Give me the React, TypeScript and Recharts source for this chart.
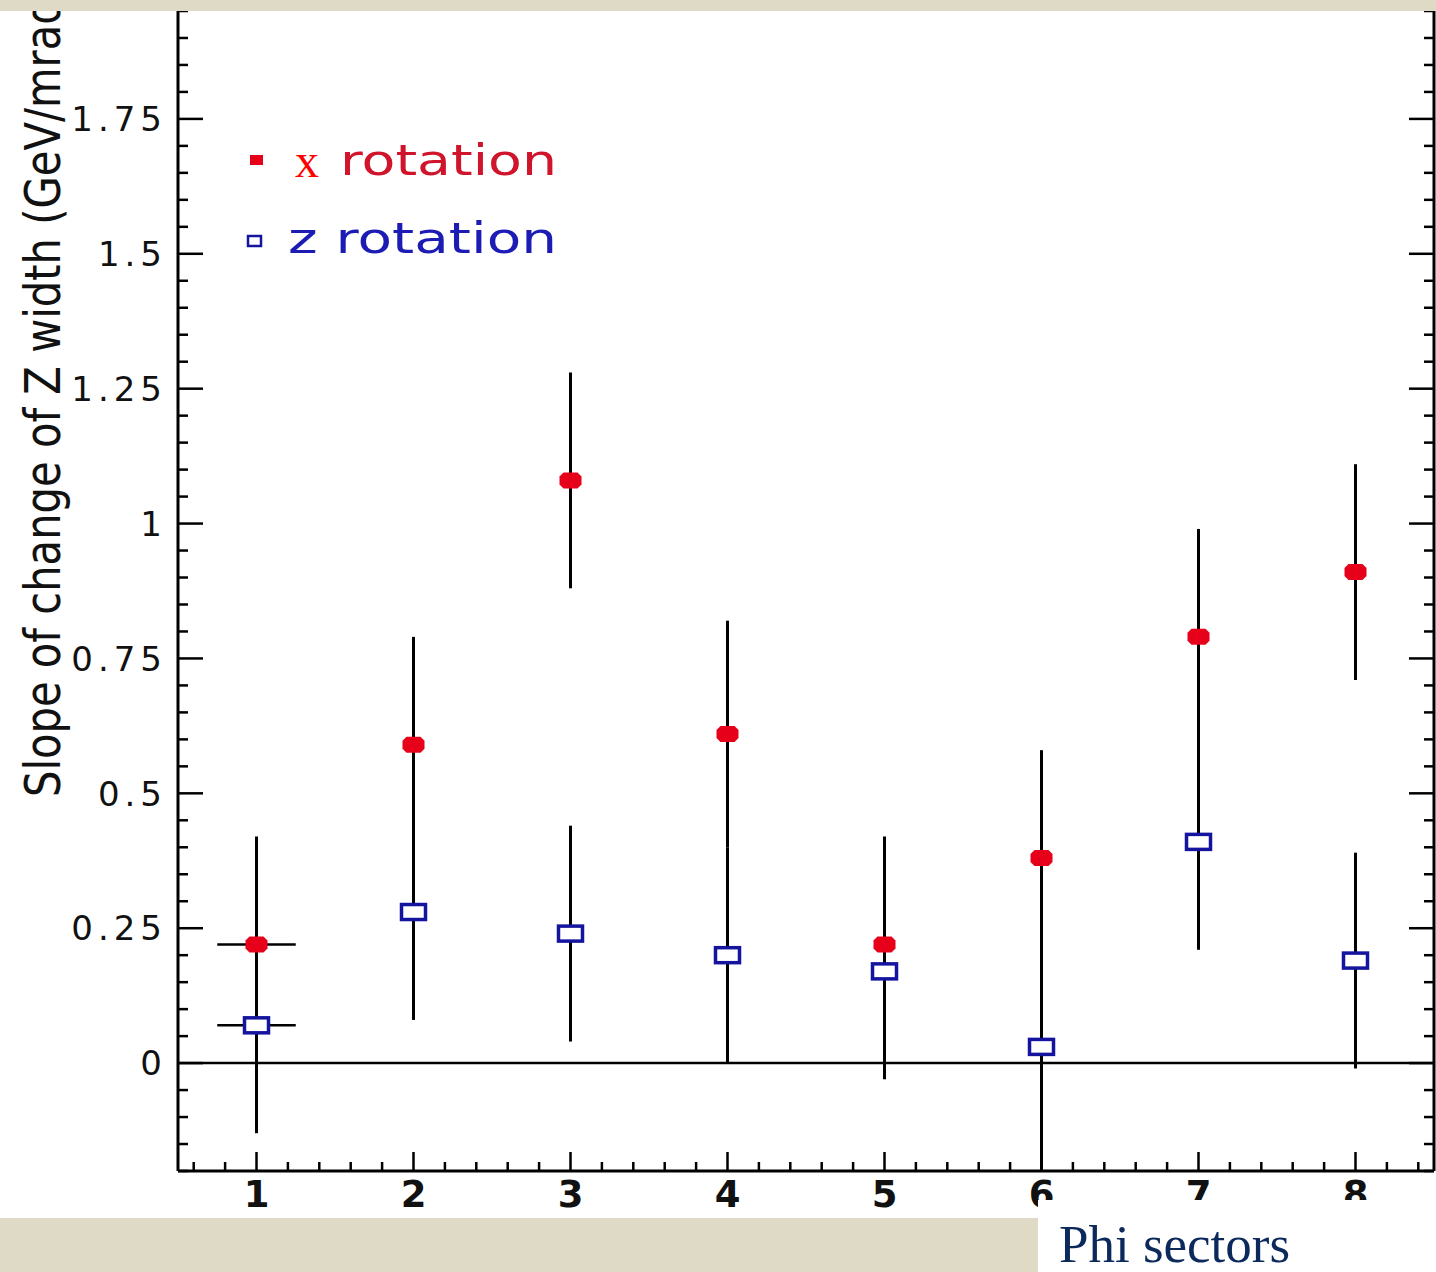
import {
  ScatterChart,
  Scatter,
  XAxis,
  YAxis,
  ErrorBar,
  ReferenceLine,
  Legend,
} from "recharts";

// phi sector number of each point
const sectors = [1, 2, 3, 4, 5, 6, 7, 8];
// x rotation (red, filled)
const xRotation = [0.22, 0.59, 1.08, 0.61, 0.22, 0.38, 0.79, 0.91];
const xRotationErr = [0.2, 0.2, 0.2, 0.21, 0.2, 0.2, 0.2, 0.2];
// z rotation (blue, open squares)
const zRotation = [0.07, 0.28, 0.24, 0.2, 0.17, 0.03, 0.41, 0.19];
const zRotationErr = [0.2, 0.2, 0.2, 0.2, 0.2, 0.23, 0.2, 0.2];
// horizontal error, only drawn on sector 1
const sectorErr = [0.25, 0, 0, 0, 0, 0, 0, 0];

const yMajorTicks = [0, 0.25, 0.5, 0.75, 1, 1.25, 1.5, 1.75];
const yTickLabels = ["0", "0.25", "0.5", "0.75", "1", "1.25", "1.5", "1.75"];
const xTickLabels = ["1", "2", "3", "4", "5", "6", "7", "8"];

const seriesNames = ["x rotation", "z rotation"];
const yTitle = "Slope of change of Z width (GeV/mrad)";
const xTitle = "Phi sectors";

// minor ticks: 0.05 on y, 0.2 on x
const yTicks: number[] = [];
for (let i = -4; i <= 39; i++) yTicks.push(Math.round(i * 5) / 100);
const xTicks: number[] = [];
for (let i = 3; i <= 42; i++) xTicks.push(Math.round(i * 2) / 10);

const xData = sectors.map((s, i) => ({
  sector: s,
  value: xRotation[i],
  err: xRotationErr[i],
  xerr: sectorErr[i] || undefined,
}));
const zData = sectors.map((s, i) => ({
  sector: s,
  value: zRotation[i],
  err: zRotationErr[i],
  xerr: sectorErr[i] || undefined,
}));

const PLOT_LEFT = 178;
const PLOT_RIGHT = 1434;
const PLOT_BOTTOM = 1171;
const RED = "#e6001a";
const BLUE = "#14149e";
const SANS = "'DejaVu Sans', Verdana, sans-serif";

const near = (a: number, b: number) => Math.abs(a - b) < 1e-6;

function YTick(props: any) {
  const { y, payload } = props;
  const v = payload.value;
  const idx = yMajorTicks.findIndex((t) => near(t, v));
  const len = idx >= 0 ? 25 : 10;
  return (
    <g>
      <line x1={PLOT_LEFT} x2={PLOT_LEFT + len} y1={y} y2={y} stroke="#000" strokeWidth={2.5} />
      <line x1={PLOT_RIGHT} x2={PLOT_RIGHT - len} y1={y} y2={y} stroke="#000" strokeWidth={2.5} />
      {idx >= 0 && (
        <text
          x={167}
          y={y}
          dy="0.36em"
          textAnchor="end"
          fontFamily={SANS}
          fontSize={34}
          letterSpacing={5}
          fill="#111"
        >
          {yTickLabels[idx]}
        </text>
      )}
    </g>
  );
}

function XTick(props: any) {
  const { x, payload } = props;
  const v = payload.value;
  const idx = sectors.findIndex((s) => near(s, v));
  const len = idx >= 0 ? 19 : 9;
  return (
    <g>
      <line x1={x} x2={x} y1={PLOT_BOTTOM} y2={PLOT_BOTTOM - len} stroke="#000" strokeWidth={2.5} />
      {idx >= 0 && (
        <text
          x={x}
          y={1207}
          textAnchor="middle"
          fontFamily={SANS}
          fontWeight="bold"
          fontSize={37}
          fill="#111"
        >
          {xTickLabels[idx]}
        </text>
      )}
    </g>
  );
}

function RedDot(props: any) {
  const { cx, cy } = props;
  const w = 11;
  const h = 8;
  const c = 4;
  const pts = [
    [cx - w + c, cy - h],
    [cx + w - c, cy - h],
    [cx + w, cy - h + c],
    [cx + w, cy + h - c],
    [cx + w - c, cy + h],
    [cx - w + c, cy + h],
    [cx - w, cy + h - c],
    [cx - w, cy - h + c],
  ]
    .map((p) => p.join(","))
    .join(" ");
  return <polygon points={pts} fill={RED} />;
}

function BlueSquare(props: any) {
  const { cx, cy } = props;
  return (
    <rect x={cx - 12} y={cy - 7.5} width={24} height={15} fill="#fff" stroke={BLUE} strokeWidth={3.5} />
  );
}

const Nothing = () => <g />;

function LegendBox() {
  return (
    <svg width={420} height={160}>
      <rect x={50} y={35} width={13} height={10} fill={RED} />
      <text x={95} y={57} fontFamily="'Liberation Serif', 'Times New Roman', serif" fontSize={48} fill="#ff0000">
        {seriesNames[0].split(" ")[0]}
      </text>
      <text x={140} y={55} fontFamily={SANS} fontSize={42} fill="#d0142c" textLength={217} lengthAdjust="spacingAndGlyphs">
        {seriesNames[0].split(" ")[1]}
      </text>
      <rect x={48} y={116} width={13} height={10} fill="#fff" stroke={BLUE} strokeWidth={2.5} />
      <text x={88} y={133} fontFamily={SANS} fontSize={42} fill="#1c1cb4" textLength={217 + 52} lengthAdjust="spacingAndGlyphs">
        {seriesNames[1]}
      </text>
    </svg>
  );
}

function YTitle() {
  return (
    <text
      x={60}
      y={797}
      transform="rotate(-90 60 797)"
      fontFamily={SANS}
      fontSize={49}
      fill="#111"
      textLength={815}
      lengthAdjust="spacingAndGlyphs"
    >
      {yTitle}
    </text>
  );
}

export default function App() {
  return (
    <div
      style={{
        position: "absolute",
        left: 0,
        top: 0,
        width: 1436,
        height: 1272,
        background: "#dedac5",
        overflow: "hidden",
      }}
    >
      <div
        style={{
          position: "absolute",
          left: 0,
          top: 11,
          width: 1436,
          height: 1207,
          background: "#fff",
          overflow: "hidden",
        }}
      >
        <div style={{ position: "absolute", left: 0, top: -11 }}>
          <ScatterChart
            width={1436}
            height={1272}
            margin={{ top: 11, right: 1, bottom: 100, left: 177 }}
          >
            <XAxis
              type="number"
              dataKey="sector"
              domain={[0.5, 8.5]}
              ticks={xTicks}
              interval={0}
              tick={XTick}
              tickLine={false}
              axisLine={{ stroke: "#000", strokeWidth: 3 }}
              height={1}
              allowDataOverflow
            />
            <YAxis
              type="number"
              dataKey="value"
              domain={[-0.2, 1.95]}
              ticks={yTicks}
              interval={0}
              tick={YTick}
              tickLine={false}
              axisLine={{ stroke: "#000", strokeWidth: 3 }}
              width={1}
              allowDataOverflow
              label={{ content: YTitle }}
            />
            <YAxis
              yAxisId="right"
              orientation="right"
              type="number"
              domain={[-0.2, 1.95]}
              tick={false}
              tickLine={false}
              axisLine={{ stroke: "#000", strokeWidth: 3 }}
              width={1}
            />
            <ReferenceLine y={0} stroke="#000" strokeWidth={2.5} />
            <Scatter data={zData} shape={Nothing} isAnimationActive={false} legendType="none">
              <ErrorBar dataKey="err" direction="y" width={0} stroke="#000" strokeWidth={3} />
              <ErrorBar dataKey="xerr" direction="x" width={0} stroke="#000" strokeWidth={2.5} />
            </Scatter>
            <Scatter data={xData} shape={Nothing} isAnimationActive={false} legendType="none">
              <ErrorBar dataKey="err" direction="y" width={0} stroke="#000" strokeWidth={3} />
              <ErrorBar dataKey="xerr" direction="x" width={0} stroke="#000" strokeWidth={2.5} />
            </Scatter>
            <Scatter name={seriesNames[1]} data={zData} shape={BlueSquare} isAnimationActive={false} />
            <Scatter name={seriesNames[0]} data={xData} shape={RedDot} isAnimationActive={false} />
            <Legend
              layout="horizontal"
              verticalAlign="middle"
              align="center"
              wrapperStyle={{ left: 200, top: 120, width: 420, height: 160 }}
              content={LegendBox}
            />
          </ScatterChart>
        </div>
      </div>
      <div
        style={{
          position: "absolute",
          left: 1038,
          top: 1200,
          width: 398,
          height: 72,
          background: "#fff",
        }}
      >
        <svg width={398} height={72}>
          <text
            x={21}
            y={62}
            fontFamily="'Liberation Serif', 'Times New Roman', serif"
            fontSize={53}
            fill="#0b2a5b"
          >
            {xTitle}
          </text>
        </svg>
      </div>
    </div>
  );
}
